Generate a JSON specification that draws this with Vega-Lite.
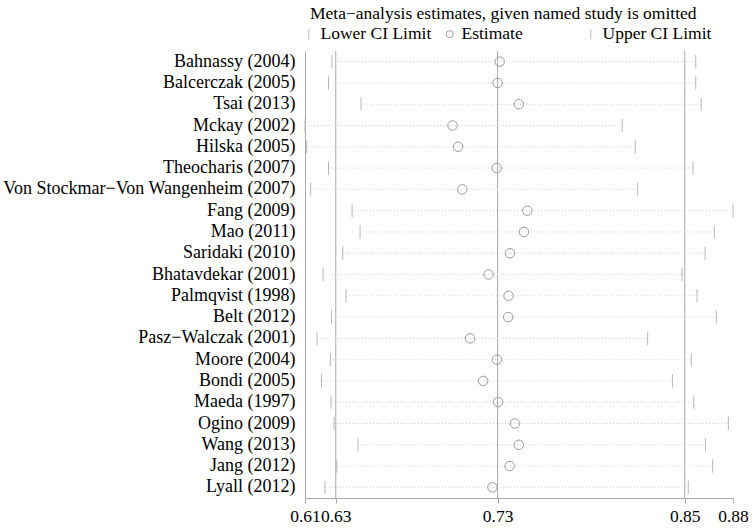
{
  "$schema": "https://vega.github.io/schema/vega-lite/v6.json",
  "autosize": "none",
  "width": 428,
  "height": 447,
  "padding": {"left": 305, "top": 51, "right": 23, "bottom": 30},
  "background": "white",
  "title": {
    "text": "Meta−analysis estimates, given named study is omitted",
    "anchor": "start",
    "frame": "group",
    "dx": 5,
    "font": "Liberation Serif",
    "fontSize": 17.5,
    "fontWeight": "normal",
    "color": "black",
    "offset": 3
  },
  "datasets": {
    "studies": [
      {"study": "Bahnassy (2004)", "lower": 0.6276, "est": 0.7333, "upper": 0.8569},
      {"study": "Balcerczak (2005)", "lower": 0.6254, "est": 0.7320, "upper": 0.8569},
      {"study": "Tsai (2013)", "lower": 0.6459, "est": 0.7454, "upper": 0.8604},
      {"study": "Mckay (2002)", "lower": 0.6106, "est": 0.7036, "upper": 0.8106},
      {"study": "Hilska (2005)", "lower": 0.6117, "est": 0.7071, "upper": 0.8188},
      {"study": "Theocharis (2007)", "lower": 0.6254, "est": 0.7314, "upper": 0.8552},
      {"study": "Von Stockmar−Von Wangenheim (2007)", "lower": 0.6142, "est": 0.7097, "upper": 0.8203},
      {"study": "Fang (2009)", "lower": 0.6403, "est": 0.7507, "upper": 0.8804},
      {"study": "Mao (2011)", "lower": 0.6453, "est": 0.7486, "upper": 0.8686},
      {"study": "Saridaki (2010)", "lower": 0.6344, "est": 0.7398, "upper": 0.8628},
      {"study": "Bhatavdekar (2001)", "lower": 0.6220, "est": 0.7263, "upper": 0.8483},
      {"study": "Palmqvist (1998)", "lower": 0.6365, "est": 0.7389, "upper": 0.8577},
      {"study": "Belt (2012)", "lower": 0.6273, "est": 0.7387, "upper": 0.8699},
      {"study": "Pasz−Walczak (2001)", "lower": 0.6182, "est": 0.7147, "upper": 0.8266},
      {"study": "Moore (2004)", "lower": 0.6266, "est": 0.7316, "upper": 0.8541},
      {"study": "Bondi (2005)", "lower": 0.6210, "est": 0.7229, "upper": 0.8422},
      {"study": "Maeda (1997)", "lower": 0.6270, "est": 0.7324, "upper": 0.8557},
      {"study": "Ogino (2009)", "lower": 0.6289, "est": 0.7429, "upper": 0.8775},
      {"study": "Wang (2013)", "lower": 0.6440, "est": 0.7454, "upper": 0.8630},
      {"study": "Jang (2012)", "lower": 0.6306, "est": 0.7396, "upper": 0.8676},
      {"study": "Lyall (2012)", "lower": 0.6232, "est": 0.7288, "upper": 0.8522}
    ],
    "overall": [
      {"value": 0.6300},
      {"value": 0.7320},
      {"value": 0.8500}
    ]
  },
  "layer": [
    {
      "data": {"name": "overall"},
      "mark": {"type": "rule", "color": "#a9a9a9", "strokeWidth": 1},
      "encoding": {
        "x": {
          "field": "value", "type": "quantitative",
          "scale": {"domain": [0.6106, 0.8804], "nice": false, "zero": false},
          "axis": {"values": [0.6106, 0.63, 0.732, 0.85, 0.8804], "format": ".2f"}
        }
      }
    },
    {
      "data": {"name": "studies"},
      "mark": {"type": "rule", "color": "#cfcfcf", "strokeWidth": 1, "strokeDash": [1, 2]},
      "encoding": {
        "y": {"field": "study", "type": "nominal", "sort": null},
        "x": {
          "field": "lower", "type": "quantitative",
          "scale": {"domain": [0.6106, 0.8804], "nice": false, "zero": false},
          "axis": {"values": [0.6106, 0.63, 0.732, 0.85, 0.8804], "format": ".2f"}
        },
        "x2": {"field": "upper"}
      }
    },
    {
      "data": {"name": "studies"},
      "transform": [
        {"fold": ["lower", "est", "upper"], "as": ["key", "val"]},
        {"lookup": "key", "from": {"data": {"values": [
          {"key": "lower", "series": "Lower CI Limit"},
          {"key": "est", "series": "Estimate"},
          {"key": "upper", "series": "Upper CI Limit"}
        ]}, "key": "key", "fields": ["series"]}}
      ],
      "mark": {"type": "point", "filled": false, "size": 90, "strokeWidth": 1, "opacity": 1},
      "encoding": {
        "y": {"field": "study", "type": "nominal", "sort": null},
        "x": {
          "field": "val", "type": "quantitative",
          "scale": {"domain": [0.6106, 0.8804], "nice": false, "zero": false},
          "axis": {"values": [0.6106, 0.63, 0.732, 0.85, 0.8804], "format": ".2f"}
        },
        "shape": {
          "field": "series", "type": "nominal",
          "scale": {"domain": ["Lower CI Limit", "Estimate", "Upper CI Limit"], "range": ["M0,-1.4L0,1.4", "circle", "M0,-1.4L0,1.4"]},
          "legend": {"title": null}
        },
        "color": {
          "field": "series", "type": "nominal",
          "scale": {"domain": ["Lower CI Limit", "Estimate", "Upper CI Limit"], "range": ["#b8b8b8", "#9a9a9a", "#b8b8b8"]},
          "legend": {"title": null}
        }
      }
    }
  ],
  "resolve": {"scale": {"x": "shared", "y": "shared"}},
  "config": {
    "view": {"stroke": null},
    "scale": {"pointPadding": 0.755},
    "font": "Liberation Serif",
    "axisX": {
      "title": null,
      "grid": false,
      "domainColor": "#a9a9a9",
      "tickColor": "#a9a9a9",
      "tickSize": 5,
      "labelPadding": 4,
      "labelFont": "Liberation Serif",
      "labelFontSize": 17.5,
      "labelColor": "black",
      "labelOverlap": false,
      "labelFlush": false
    },
    "axisY": {
      "title": null,
      "grid": false,
      "ticks": false,
      "domainColor": "#a9a9a9",
      "labelPadding": 10,
      "labelFont": "Liberation Serif",
      "labelFontSize": 18,
      "labelColor": "black",
      "labelLimit": 400
    },
    "legend": {
      "orient": "none",
      "legendX": -5,
      "legendY": -26,
      "direction": "horizontal",
      "columns": 3,
      "gridAlign": "all",
      "columnPadding": 9,
      "labelFont": "Liberation Serif",
      "labelFontSize": 17.5,
      "labelColor": "black",
      "symbolSize": 50,
      "symbolStrokeWidth": 1,
      "labelOffset": 3,
      "padding": 0
    }
  }
}
